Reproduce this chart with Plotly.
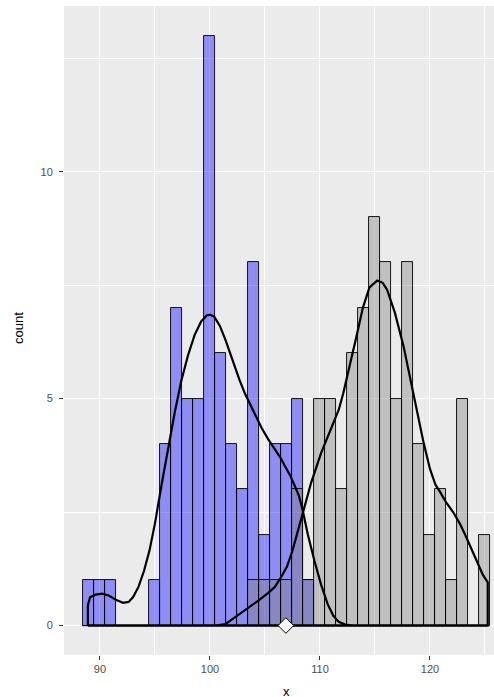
import plotly.graph_objects as go

# ---- data ----
bin_centers = list(range(89, 126))  # bins of width 1 centred on integers
blue_counts = [1, 1, 1, 0, 0, 0, 1, 4, 7, 5, 5, 13, 6, 4, 3, 8, 2, 4, 4, 5, 1,
               0, 0, 0, 0, 0, 0, 0, 0, 0, 0, 0, 0, 0, 0, 0, 0]
grey_counts = [0, 0, 0, 0, 0, 0, 0, 0, 0, 0, 0, 0, 0, 0, 0, 1, 1, 1, 1, 3, 1,
               5, 5, 3, 6, 7, 9, 8, 5, 8, 4, 2, 3, 1, 5, 0, 2]

# density curves (count scale)
blue_dens_x = [88.9, 88.9, 89.1, 89.6, 90.2, 90.8, 91.5, 92.1, 92.6, 93.0, 93.5, 94.0,
               94.5, 95.0, 95.6, 96.2, 96.8, 97.4, 98.0, 98.6, 99.2, 99.7, 100.0,
               100.4, 100.9, 101.4, 101.9, 102.3, 102.7, 103.2, 103.7, 104.2, 104.7,
               105.3, 105.9, 106.4, 106.8, 107.3, 107.7, 108.1, 108.4, 108.9, 109.5,
               110.1, 110.7, 111.2, 111.7, 112.3, 113.0, 125.25, 125.25]
blue_dens_y = [0.0, 0.45, 0.62, 0.68, 0.70, 0.66, 0.56, 0.50, 0.52, 0.62, 0.85, 1.2,
               1.65, 2.25, 3.1, 3.9, 4.7, 5.4, 5.95, 6.4, 6.7, 6.83, 6.85,
               6.8, 6.6, 6.3, 5.95, 5.7, 5.4, 5.1, 4.85, 4.6, 4.35,
               4.1, 3.88, 3.7, 3.52, 3.3, 3.08, 2.85, 2.57, 2.0, 1.42,
               0.9, 0.47, 0.22, 0.08, 0.02, 0.0, 0.0, 0.0]
grey_dens_x = [88.9, 100.5, 101.4, 102.3, 103.2, 104.4, 105.3, 105.9, 106.5, 107.0,
               107.5, 108.0, 108.5, 109.2, 110.1, 110.7, 111.2, 111.7, 112.1, 112.7,
               113.3, 113.9, 114.5, 115.2, 115.7, 116.1, 116.8, 117.6, 118.2, 118.5,
               119.1, 119.4, 120.0, 120.5, 120.9, 121.5, 122.1, 122.7, 123.2, 123.6,
               124.1, 124.5, 124.8, 125.25, 125.25]
grey_dens_y = [0.0, 0.0, 0.03, 0.18, 0.33, 0.55, 0.72, 0.85, 1.08, 1.3,
               1.65, 2.1, 2.57, 3.15, 3.8, 4.15, 4.45, 4.75, 5.1, 5.7,
               6.35, 7.0, 7.45, 7.6, 7.55, 7.4, 6.9, 6.15, 5.45, 5.13,
               4.35, 4.05, 3.45, 3.1, 2.95, 2.7, 2.5, 2.25, 2.0, 1.78,
               1.5, 1.28, 1.12, 0.95, 0.0]
mean_x = [106.9]
mean_y = [0]

x_ticks = [90, 100, 110, 120]
y_ticks = [0, 5, 10]

fig = go.Figure()
fig.add_trace(go.Bar(x=bin_centers, y=blue_counts, width=1,
                     marker=dict(color="rgba(0,0,255,0.4)", line=dict(color="black", width=0.9))))
fig.add_trace(go.Bar(x=bin_centers, y=grey_counts, width=1,
                     marker=dict(color="rgba(127,127,127,0.4)", line=dict(color="black", width=0.9))))

for dx, dy in [(blue_dens_x, blue_dens_y), (grey_dens_x, grey_dens_y)]:
    xs = dx + [dx[0]]
    ys = dy + [0.0]
    fig.add_trace(go.Scatter(x=xs, y=ys, mode="lines",
                             line=dict(color="black", width=2.2)))

fig.add_trace(go.Scatter(x=mean_x, y=mean_y, mode="markers",
                         marker=dict(symbol="diamond", size=12, color="white",
                                     line=dict(color="black", width=1))))

axis_common = dict(
    showgrid=True, gridcolor="white", gridwidth=1.1, zeroline=False,
    ticks="outside", ticklen=4, tickcolor="#333333", tickwidth=1,
    tickfont=dict(family="Liberation Sans, Arial, sans-serif", size=11, color="#4D4D4D"),
    showline=False,
)

fig.update_layout(
    width=494, height=697,
    margin=dict(l=64, r=0, t=6, b=42),
    paper_bgcolor="white", plot_bgcolor="#EBEBEB",
    barmode="overlay", bargap=0, showlegend=False,
    xaxis=dict(range=[86.73, 125.82], tickvals=x_ticks,
               minor=dict(tickvals=[95, 105, 115, 125], showgrid=True,
                          gridcolor="white", gridwidth=0.5, ticks=""),
               **axis_common),
    yaxis=dict(range=[-0.65, 13.65], tickvals=y_ticks, ticklabelstandoff=4,
               minor=dict(tickvals=[2.5, 7.5, 12.5], showgrid=True,
                          gridcolor="white", gridwidth=0.5, ticks=""),
               **axis_common),
    annotations=[
        dict(text="count", xref="paper", yref="paper",
             x=(18 - 64) / 430, y=(655 - 328) / 649, textangle=-90,
             showarrow=False, xanchor="center", yanchor="middle",
             font=dict(family="Liberation Sans, Arial, sans-serif", size=13, color="black")),
        dict(text="x", xref="paper", yref="paper",
             x=(286 - 64) / 430, y=(655 - 691) / 649,
             showarrow=False, xanchor="center", yanchor="middle",
             font=dict(family="Liberation Sans, Arial, sans-serif", size=13, color="black")),
    ],
)

fig.write_html("out.html", config={"displayModeBar": False},
               post_script="document.body.style.margin='0';document.body.style.padding='0';")
